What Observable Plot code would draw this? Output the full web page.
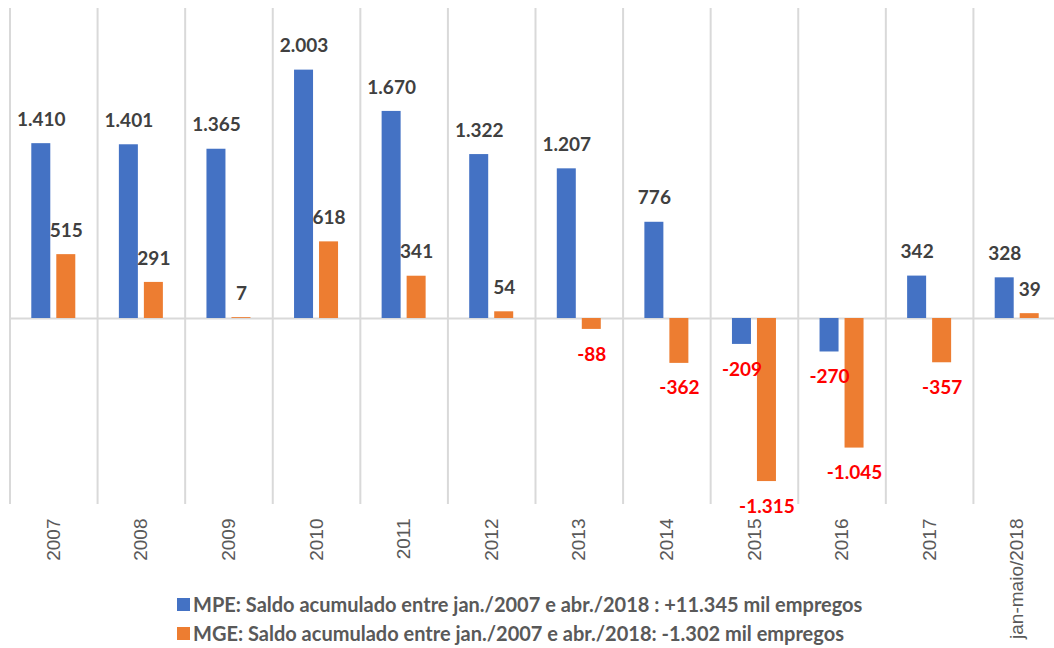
<!DOCTYPE html>
<html>
<head>
<meta charset="utf-8">
<script src="https://cdn.jsdelivr.net/npm/d3@7"></script>
<script src="https://cdn.jsdelivr.net/npm/@observablehq/plot@0.6"></script>
<style>
  html, body { margin: 0; padding: 0; background: #fff; overflow: hidden; }
  #wrap { position: relative; width: 1054px; height: 648px; }
  #legend { position: absolute; left: 177px; top: 590px; font-family: Lato, "Open Sans", sans-serif; font-weight: 700; font-size: 20px; color: #595959; line-height: 29px; }
  #legend .item { display: flex; align-items: center; white-space: nowrap; }
  #legend .sw { width: 13px; height: 13px; margin-right: 3px; display: inline-block; }
</style>
</head>
<body>
<div id="wrap"><div id="chart"></div><div id="legend"></div></div>
<script>
const categories = ["2007","2008","2009","2010","2011","2012","2013","2014","2015","2016","2017","jan-maio/2018"];
const mpe = [1410, 1401, 1365, 2003, 1670, 1322, 1207, 776, -209, -270, 342, 328];
const mge = [515, 291, 7, 618, 341, 54, -88, -362, -1315, -1045, -357, 39];
const seriesNames = ["MPE", "MGE"];
const seriesColors = ["#4472c4", "#ed7d31"];
const legendLabels = [
  "MPE: Saldo acumulado entre jan./2007 e abr./2018 : +11.345 mil empregos",
  "MGE: Saldo acumulado entre jan./2007 e abr./2018: -1.302 mil empregos"
];

const fmt = v => (v < 0 ? "-" : "") + d3.format(",")(Math.abs(v)).replace(/,/g, ".");

const data = [];
categories.forEach((c, i) => {
  data.push({cat: c, series: "MPE", value: mpe[i]});
  data.push({cat: c, series: "MGE", value: mge[i]});
});
const x0 = 9.5, x1 = 1060.5;
const band = (x1 - x0) / categories.length;
const barW = 19;
const inset = (band - barW) / 2;
const off = 12.5;
const labelFont = {fontWeight: 700, fontSize: 19, fontFamily: "Lato, sans-serif"};

const marks = [];
marks.push(Plot.ruleX(categories, {x: d => d, dx: -band / 2, y1: 2500, y2: -1500, stroke: "#d9d9d9", strokeWidth: 2}));
marks.push(Plot.ruleY([0], {stroke: "#d9d9d9", strokeWidth: 2}));
seriesNames.forEach((s, k) => {
  const sub = data.filter(d => d.series === s);
  const dx = k === 0 ? -off : off;
  marks.push(Plot.barY(sub, {x: "cat", y: "value", fill: seriesColors[k], insetLeft: inset, insetRight: inset, dx}));
});
seriesNames.forEach((s, k) => {
  const sub = data.filter(d => d.series === s);
  const dx = k === 0 ? -off : off;
  marks.push(Plot.text(sub.filter(d => d.value >= 0), {x: "cat", y: "value", text: d => fmt(d.value), dx, dy: -24, fill: "#404040", ...labelFont}));
  marks.push(Plot.text(sub.filter(d => d.value < 0), {x: "cat", y: "value", text: d => fmt(d.value), dx, dy: 25, fill: "#ff0000", ...labelFont}));
});
marks.push(Plot.axisX({tickSize: 0, tickRotate: -90, tickPadding: 14, fontSize: 19, fill: "#595959", fontFamily: "Liberation Sans, Arial, sans-serif", label: null}));

const chart = Plot.plot({
  width: 1054,
  height: 648,
  marginTop: 8,
  marginBottom: 144,
  marginLeft: 10,
  marginRight: 0,
  style: {background: "#fff", overflow: "visible"},
  x: {domain: categories, range: [x0, x1], padding: 0, round: false, axis: null},
  y: {domain: [-1500, 2500], range: [504, 8], axis: null},
  marks
});
document.getElementById("chart").appendChild(chart);

const legend = document.getElementById("legend");
legendLabels.forEach((t, k) => {
  const item = document.createElement("div");
  item.className = "item";
  const sw = document.createElement("span");
  sw.className = "sw";
  sw.style.background = seriesColors[k];
  const tx = document.createElement("span");
  tx.textContent = t;
  item.appendChild(sw);
  item.appendChild(tx);
  legend.appendChild(item);
});
</script>
</body>
</html>
